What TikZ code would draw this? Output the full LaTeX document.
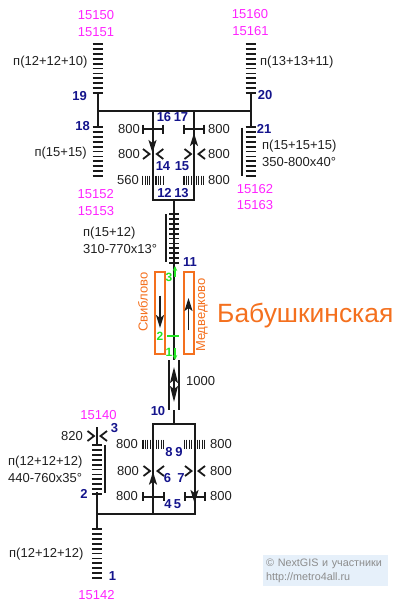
\documentclass[tikz,border=0pt]{standalone}
\usepackage{fontspec}
\setmainfont{Liberation Sans}
\usetikzlibrary{arrows.meta}
\definecolor{stnorange}{HTML}{F4701E}
\definecolor{numblue}{HTML}{14148C}
\definecolor{txtgray}{HTML}{202020}
\definecolor{credfill}{HTML}{E6F0FA}
\definecolor{exitpink}{HTML}{FF22FF}
\definecolor{markgreen}{HTML}{22E622}
\definecolor{credtxt}{HTML}{8C8C8C}
\definecolor{linedark}{HTML}{1A1A1A}
\tikzset{
  txt/.style = {text=txtgray, inner sep=0pt, font=\fontsize{13}{15}\selectfont},
  ltxt/.style = {txt, anchor=west},
  rtxt/.style = {txt, anchor=east},
  exitno/.style = {inner sep=0pt, text=exitpink, font=\fontsize{13}{15}\selectfont},
  num/.style = {inner sep=0pt, text=numblue, font=\fontsize{13}{15}\selectfont\bfseries},
  gnum/.style = {inner sep=0pt, text=markgreen, font=\fontsize{12}{13}\selectfont\bfseries},
  stn/.style = {inner sep=0pt, text=stnorange, font=\fontsize{13}{15}\selectfont},
  track/.style = {line width=2pt, linedark},
  tick/.style = {line width=1.8pt, linedark},
  bar/.style = {line width=2pt, linedark},
  dirarrow/.style = {line width=1.7pt, linedark, -{Stealth[length=13pt,width=8pt,inset=3pt]}},
  platform/.style = {draw=stnorange, line width=2pt, inner sep=0pt, minimum width=10pt, minimum height=82pt},
  marker/.style = {line width=1.8pt, markgreen},
  credit/.style = {fill=credfill, text=credtxt, align=left, anchor=north west, inner sep=0pt,
    minimum width=125pt, minimum height=31pt, text width=119pt, font=\fontsize{10.8}{14}\selectfont}
}
% #1 = x, #2 = first y
\newcommand{\ladder}[2]{\foreach \i in {0,...,10} \draw [tick] (#1-5,#2+4.9*\i) -- ++(10,0);}
\newcommand{\gate}[2]{\draw [bar] (#1,#2-4.5) -- ++(0,9) (#1,#2) -- ++(20.5,0) (#1+20.5,#2-4.5) -- ++(0,9);}
\newcommand{\chevr}[2]{\draw [tick] (#1,#2-5) -- ++(6.5,5) -- ++(-6.5,5);}
\newcommand{\chevl}[2]{\draw [tick] (#1,#2-5) -- ++(-6.5,5) -- ++(6.5,5);}
\newcommand{\comb}[2]{\foreach \i in {0,...,3} \draw [line width=1.1pt, linedark] (#1+2.4*\i,#2-4.5) -- ++(0,9);}

\begin{document}
\begin{tikzpicture}[x=1pt,y=-1pt]
\useasboundingbox (0,0) rectangle (408,608);

% top hall
\coordinate (j19) at (97.5,93);
\coordinate (c19) at (97.5,110.9);
\coordinate (j18) at (97.5,127);
\coordinate (j20) at (250.5,93);
\coordinate (c20) at (250.5,110.9);
\coordinate (j21) at (250.5,127);
\coordinate (boxtl) at (152.5,110.9);
\coordinate (boxtr) at (194,110.9);
\coordinate (boxbl) at (152.5,200);
\coordinate (boxbr) at (194,200);
\coordinate (stubt) at (174,200);
\coordinate (midend) at (174,360);
\coordinate (stubb) at (174,410);
\coordinate (boxut) at (174,424.3);

\draw [track] (j19) -- (j18);
\draw [track] (j20) -- (j21);
\draw [track] (c19) -- (c20);
\draw [track] (boxtl) -- (boxbl) -- (boxbr) -- (boxtr);
\draw [track] (stubt) -- (midend);
\draw [track] (stubb) -- (boxut);
\ladder{97.5}{44}
\ladder{250.5}{44}
\ladder{97.5}{127}
\ladder{250.5}{127}
\ladder{174}{214}
\coordinate (side21a) at (242,127.5);
\coordinate (side21b) at (242,175.5);
\draw [bar] (side21a) -- (side21b);
\coordinate (sidemida) at (166,214);
\coordinate (sidemidb) at (166,262);
\draw [bar] (sidemida) -- (sidemidb);

\gate{142.7}{129}
\gate{183.7}{129}
\chevr{143}{154}
\chevl{163.3}{154}
\chevr{184.5}{154}
\chevl{205}{154}
\comb{142.7}{180}
\comb{156}{180}
\comb{184}{180}
\comb{196.5}{180}
\draw [dirarrow] (boxtl) -- (152.5,153);
\draw [dirarrow] (boxbr) -- (194,133);

\node [exitno] (e15150) at (96,14.7) {15150};
\node [exitno] (e15151) at (96,32) {15151};
\node [exitno] (e15160) at (250,14) {15160};
\node [exitno] (e15161) at (250.5,31) {15161};
\node [exitno] (e15152) at (95.7,194) {15152};
\node [exitno] (e15153) at (96,211) {15153};
\node [exitno] (e15162) at (255,189) {15162};
\node [exitno] (e15163) at (255,205) {15163};
\node [rtxt] (l19) at (87.7,62) {п(12+12+10)};
\node [ltxt] (l20) at (260,62) {п(13+13+11)};
\node [rtxt] (l18) at (87,153) {п(15+15)};
\node [ltxt] (l21a) at (262,146) {п(15+15+15)};
\node [ltxt] (l21b) at (262,162) {350-800x40°};
\node [num] (n19) at (79.7,95.7) {19};
\node [num] (n20) at (265,95) {20};
\node [num] (n18) at (82.7,126) {18};
\node [num] (n21) at (264,128.7) {21};
\node [num] (n16) at (164,117) {16};
\node [num] (n17) at (181,117) {17};
\node [num] (n14) at (163,166) {14};
\node [num] (n15) at (182,166) {15};
\node [num] (n12) at (164.5,192.5) {12};
\node [num] (n13) at (181.5,193) {13};
\node [txt] (w1) at (129,129) {800};
\node [txt] (w2) at (129,154) {800};
\node [txt] (w3) at (128,180) {560};
\node [txt] (w4) at (219,129) {800};
\node [txt] (w5) at (219,154) {800};
\node [txt] (w6) at (219,180) {800};

% platforms
\node [ltxt] (l11a) at (83,233) {п(15+12)};
\node [ltxt] (l11b) at (83,249) {310-770x13°};
\node [num] (n11) at (190,262) {11};
\node [platform] (pfsv) at (160,313) {};
\node [platform] (pfmd) at (189,313) {};
\node [stn, rotate=90] (svib) at (143,302) {Свиблово};
\node [stn, rotate=90] (medv) at (202,315) {Медведково};
\node [inner sep=0pt, text=stnorange, font=\fontsize{26.4}{28}\selectfont, anchor=west] (bab) at (217,316) {Бабушкинская};
\coordinate (arsva) at (160,295.7);
\coordinate (arsvb) at (160,328);
\coordinate (armda) at (188.5,330);
\coordinate (armdb) at (188.5,298);
\draw [dirarrow] (arsva) -- (arsvb);
\draw [dirarrow] (armda) -- (armdb);
\coordinate (g2a) at (167,335.7);
\coordinate (g2b) at (179,335.7);
\coordinate (g3a) at (175,277);
\coordinate (g3b) at (175,266);
\coordinate (g1a) at (175,348);
\coordinate (g1b) at (175,360);
\draw [marker] (g2a) -- (g2b);
\draw [marker, -{Stealth[length=5pt,width=4.5pt]}] (g3a) -- (g3b);
\draw [marker, -{Stealth[length=5pt,width=4.5pt]}] (g1a) -- (g1b);
\node [gnum] (g3) at (169,277) {3};
\node [gnum] (g2) at (160,336) {2};
\node [gnum] (g1) at (169,352) {1};

% passage
\coordinate (pa) at (169.3,360);
\coordinate (pb) at (169.3,410);
\coordinate (pc) at (179.3,360);
\coordinate (pd) at (179.3,410);
\draw [bar] (pa) -- (pb);
\draw [bar] (pc) -- (pd);
\coordinate (dbla) at (174,367);
\coordinate (dblb) at (174,402);
\draw [line width=1.7pt, linedark, {Stealth[length=16pt,width=8pt,inset=3pt]}-{Stealth[length=16pt,width=8pt,inset=3pt]}] (dbla) -- (dblb);
\node [ltxt] (l1000) at (186,381) {1000};
\node [num] (n10) at (158,411) {10};

% bottom hall
\coordinate (boxubl) at (153,424.3);
\coordinate (boxubr) at (194.5,424.3);
\coordinate (boxlbl) at (153,514);
\coordinate (boxlbr) at (194.5,514);
\coordinate (c2) at (97,514);
\coordinate (j2) at (97,492);
\coordinate (j1) at (97,529);
\coordinate (j3a) at (97,427);
\coordinate (j3b) at (97,445);
\draw [track] (boxlbl) -- (boxubl) -- (boxubr) -- (boxlbr) -- (c2);
\draw [track] (j2) -- (j1);
\draw [track] (j3a) -- (j3b);
\ladder{97}{445}
\ladder{97}{529}
\coordinate (side2a) at (105,445);
\coordinate (side2b) at (105,492.6);
\draw [bar] (side2a) -- (side2b);
\chevr{87.5}{436}
\chevl{107}{436}

\gate{143.3}{496.7}
\gate{184.5}{496.7}
\chevr{143.5}{471}
\chevl{164}{471}
\chevr{185}{471}
\chevl{205}{471}
\comb{143}{444}
\comb{156.5}{444}
\comb{184.5}{444}
\comb{197.5}{444}
\draw [dirarrow] (boxlbl) -- (153,471.7);
\draw [dirarrow] (boxubr) -- (194.5,503);

\node [exitno] (e15140) at (98.5,414.7) {15140};
\node [exitno] (e15142) at (96.5,595) {15142};
\node [num] (n3) at (114.5,428.5) {3};
\node [txt] (l820) at (72,436) {820};
\node [ltxt] (l2a) at (8,462) {п(12+12+12)};
\node [ltxt] (l2b) at (8,478) {440-760x35°};
\node [ltxt] (l1) at (9,554) {п(12+12+12)};
\node [num] (n2) at (84,494) {2};
\node [num] (n1) at (112.5,576) {1};
\node [txt] (w7) at (127,444) {800};
\node [txt] (w8) at (128,471) {800};
\node [txt] (w9) at (127,496) {800};
\node [txt] (w10) at (221,444) {800};
\node [txt] (w11) at (221,471) {800};
\node [txt] (w12) at (221,496) {800};
\node [num] (n8) at (169,452) {8};
\node [num] (n9) at (179,452) {9};
\node [num] (n6) at (167.5,478.5) {6};
\node [num] (n7) at (181,478.5) {7};
\node [num] (n4) at (168,504.5) {4};
\node [num] (n5) at (177.5,504.5) {5};

\node [credit] (cred) at (263,555) {© NextGIS и участники\\http://metro4all.ru};
\end{tikzpicture}
\end{document}
